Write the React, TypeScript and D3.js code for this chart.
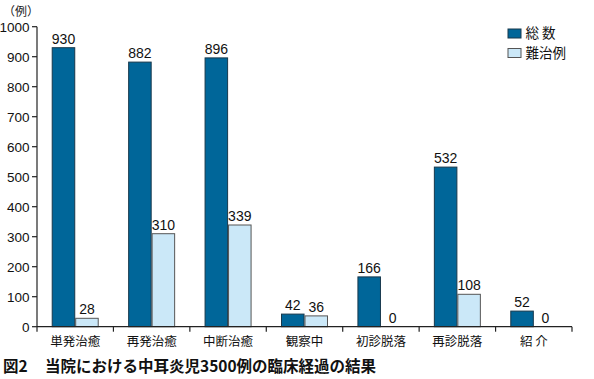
import React from 'react';
import * as d3 from 'd3';

const categories = ['単発治癒', '再発治癒', '中断治癒', '観察中', '初診脱落', '再診脱落', '紹 介'];
const totalValues = [930, 882, 896, 42, 166, 532, 52];
const difficultValues = [28, 310, 339, 36, 0, 108, 0];
const seriesKeys = ['total', 'difficult'];
const seriesLabels = ['総 数', '難治例'];
const yTicks = [0, 100, 200, 300, 400, 500, 600, 700, 800, 900, 1000];

const W = 594;
const H = 379;
const left = 37;
const right = 572;
const top = 26.7;
const bottom = 326.7;
const colors = ['#006699', '#cbe8f8'];
const strokes = ['#17384c', '#555555'];
const numFont = '"Liberation Sans", Arial, sans-serif';
const jpFont = '"Noto Sans CJK JP", sans-serif';

export default function App() {
  const x0 = d3.scaleBand<string>().domain(categories).range([left, right]).padding(0);
  const x1 = d3.scaleBand<string>().domain(seriesKeys).range([-23, 23]).paddingInner(0.04);
  const y = d3.scaleLinear().domain([0, 1000]).range([bottom, top]);
  const series = [totalValues, difficultValues];
  const boundaries = d3.range(categories.length + 1).map((i) => left + i * x0.step());

  return (
    <svg width={W} height={H} style={{ position: 'absolute', left: 0, top: 0, background: '#fff', whiteSpace: 'pre' }}>
      <text x={3} y={16} fontFamily={jpFont} fontSize={12} fill="#222">（例）</text>
      {/* y axis */}
      <line x1={left} x2={left} y1={top} y2={bottom} stroke="#222" strokeWidth={1.2} />
      {yTicks.map((t) => (
        <g key={t}>
          <line x1={left - 5} x2={left} y1={y(t)} y2={y(t)} stroke="#222" strokeWidth={1.2} />
          <text x={29.5} y={y(t)} dy="0.36em" textAnchor="end" fontFamily={numFont} fontSize={13.5} fill="#111">{t}</text>
        </g>
      ))}
      {/* bars */}
      {categories.map((c, i) => (
        <g key={c} transform={`translate(${x0(c)! + x0.bandwidth() / 2},0)`}>
          {seriesKeys.map((k, j) => {
            const v = series[j][i];
            const bx = x1(k)!;
            return (
              <g key={k}>
                {v > 0 && (
                  <rect x={bx} y={y(v)} width={x1.bandwidth()} height={bottom - y(v)} fill={colors[j]} stroke={strokes[j]} strokeWidth={1} />
                )}
                <text x={bx + x1.bandwidth() / 2} y={y(v) - 4} textAnchor="middle" fontFamily={numFont} fontSize={14} fill="#111">{v}</text>
              </g>
            );
          })}
        </g>
      ))}
      {/* x axis */}
      <line x1={left} x2={right} y1={bottom} y2={bottom} stroke="#222" strokeWidth={1.2} />
      {boundaries.map((bx, i) => (
        <line key={i} x1={bx} x2={bx} y1={bottom} y2={bottom + 5} stroke="#222" strokeWidth={1.2} />
      ))}
      {categories.map((c) => (
        <text key={c} x={x0(c)! + x0.bandwidth() / 2} y={345.5} textAnchor="middle" fontFamily={jpFont} fontSize={12.5} fill="#111" style={{ whiteSpace: 'pre' }}>{c}</text>
      ))}
      {/* legend */}
      {seriesLabels.map((s, j) => (
        <g key={s} transform={`translate(508,${29 + j * 19.5})`}>
          <rect x={0} y={0} width={13} height={9} fill={colors[j]} stroke={strokes[j]} strokeWidth={1} />
          <text x={17.5} y={4.5} dy="0.36em" fontFamily={jpFont} fontSize={13.5} fill="#111" style={{ whiteSpace: 'pre' }}>{s}</text>
        </g>
      ))}
      {/* caption */}
      <text x={3} y={372} fontFamily={jpFont} fontSize={15.5} fontWeight="bold" fill="#111">図2</text>
      <text x={45} y={372} fontFamily={jpFont} fontSize={15.5} fontWeight="bold" fill="#111">当院における中耳炎児3500例の臨床経過の結果</text>
    </svg>
  );
}
